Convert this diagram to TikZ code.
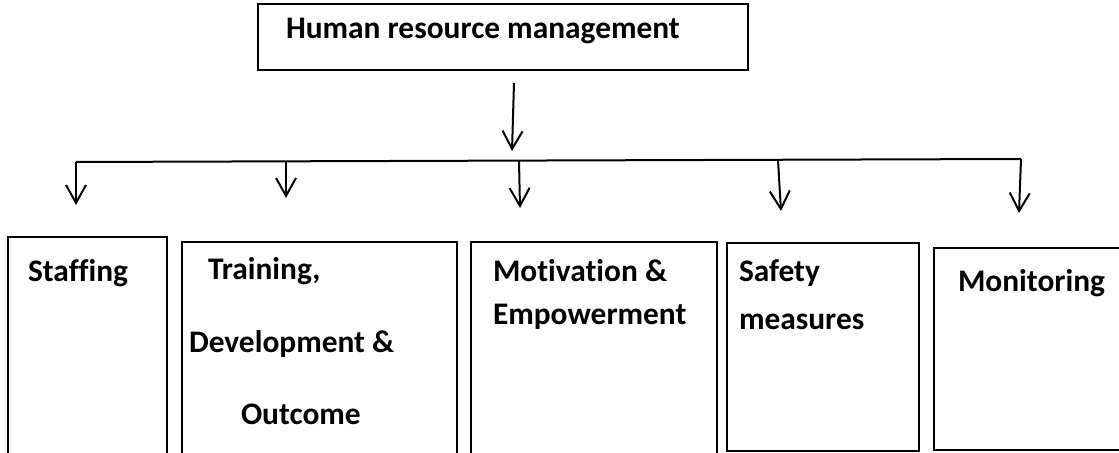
\documentclass[tikz,border=0pt]{standalone}
\usepackage{fontspec}
\setmainfont{Carlito}[Ligatures=NoCommon]
\usetikzlibrary{arrows.meta,fit}

\begin{document}
\begin{tikzpicture}[x=0.5pt, y=-0.5pt, line width=1pt,
    >={Straight Barb[length=9pt,width=10pt]},
    box/.style={draw, inner sep=0pt},
    lbl/.style={anchor=base west, inner sep=0pt, font=\fontsize{15.7}{18}\selectfont\bfseries}]
      \useasboundingbox (0,0) rectangle (1119,453);
      \clip (0,0) rectangle (1119,453);
      % boxes
      \node[box, fit={(258,4) (748,70)}]    (hrm) {};
      \node[box, fit={(8,237) (167,480)}]   (staffing) {};
      \node[box, fit={(182,242) (457,480)}] (training) {};
      \node[box, fit={(471,242) (717,480)}] (motivation) {};
      \node[box, fit={(727,243) (919,451)}] (safety) {};
      \node[box, fit={(934,248) (1130,450)}] (monitoring) {};
      % labels
      \node[lbl] (thrm) at (285,39)  {Human resource management};
      \node[lbl] (tsta) at (27,282)  {Staffing};
      \node[lbl] (ttr1) at (207,280) {Training,};
      \node[lbl] (ttr2) at (188,353) {Development \&};
      \node[lbl] (ttr3) at (240,425) {Outcome};
      \node[lbl] (tmo1) at (492,282) {Motivation \&};
      \node[lbl] (tmo2) at (492,325) {Empowerment};
      \node[lbl] (tsa1) at (738,282) {Safety};
      \node[lbl] (tsa2) at (738,330) {measures};
      \node[lbl] (tmon) at (957,292) {Monitoring};
      % bus and arrow ends
      \coordinate (a0) at (514,83);
      \coordinate (a1) at (512,151);
      \coordinate (b1) at (76,162);
      \coordinate (b2) at (286,161.5);
      \coordinate (b3) at (519,161);
      \coordinate (b4) at (778,160);
      \coordinate (b5) at (1021,159);
      \coordinate (t1) at (76,205);
      \coordinate (t2) at (286,198);
      \coordinate (t3) at (520,208);
      \coordinate (t4) at (781,211);
      \coordinate (t5) at (1019,213);
      \draw[->] (a0) to (a1);
      \draw (b1) to (b5);
      \draw[->] (b1) to (t1);
      \draw[->] (b2) to (t2);
      \draw[->] (b3) to (t3);
      \draw[->] (b4) to (t4);
      \draw[->] (b5) to (t5);
\end{tikzpicture}
\end{document}
